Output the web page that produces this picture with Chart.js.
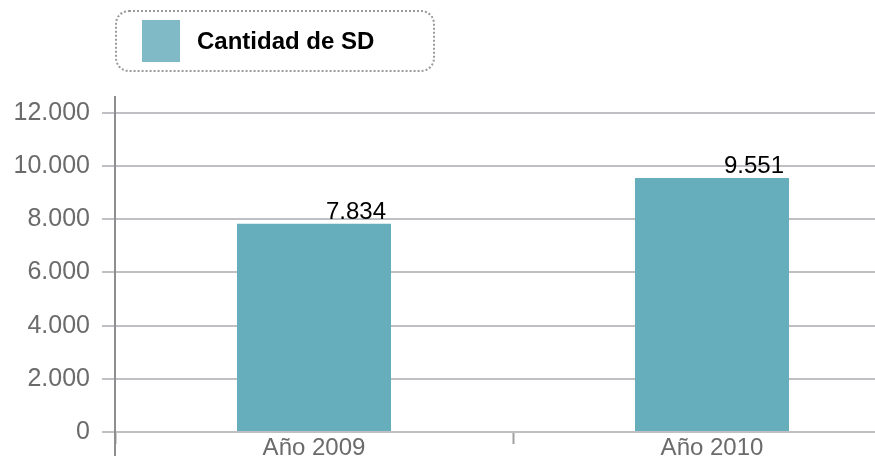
<!DOCTYPE html>
<html lang="es">
<head>
<meta charset="utf-8">
<title>Cantidad de SD</title>
<script src="https://cdn.jsdelivr.net/npm/chart.js@4/dist/chart.umd.min.js"></script>
<style>
  html, body { margin: 0; padding: 0; background: #fff; overflow: hidden; }
  #wrap { position: relative; width: 875px; height: 461px; overflow: hidden; }
  #legend {
    position: absolute; left: 115px; top: 10px; width: 320px; height: 62px;
    box-sizing: border-box; border: 2px dotted #9a9a9a; border-radius: 14px;
    display: flex; align-items: center;
    font: bold 24px "Liberation Sans", Arial, sans-serif; color: #000;
  }
  #legend .swatch { width: 38px; height: 42px; margin-left: 25px; margin-right: 17px; }
</style>
</head>
<body>
<div id="wrap">
  <!-- canvas runs past the right edge so the second bar sits where the original has it -->
  <canvas id="chart" width="911" height="461"></canvas>
  <div id="legend"><span class="swatch"></span><span class="name"></span></div>
</div>
<script>
"use strict";
const categories = ["Año 2009", "Año 2010"];
const seriesName = "Cantidad de SD";
const seriesValues = [7834, 9551];
const yTicks = [0, 2000, 4000, 6000, 8000, 10000, 12000];

const barColor = "#66aebb";
const legendColor = "#80bac6";
const gridColor = "#c0c0c4";
const axisColor = "#8e8e8e";

// 12000 -> "12.000"
const fmt = (v) => String(v).replace(/\B(?=(\d{3})+(?!\d))/g, ".");

document.querySelector("#legend .swatch").style.background = legendColor;
document.querySelector("#legend .name").textContent = seriesName;

Chart.defaults.font.family = '"Liberation Sans", Arial, sans-serif';

// value labels right-aligned just above each bar
const valueLabels = {
  id: "valueLabels",
  afterDatasetsDraw(chart) {
    const ctx = chart.ctx;
    ctx.save();
    ctx.font = '24px "Liberation Sans", Arial, sans-serif';
    ctx.fillStyle = "#000";
    ctx.textAlign = "right";
    ctx.textBaseline = "alphabetic";
    chart.getDatasetMeta(0).data.forEach((bar, i) => {
      ctx.fillText(fmt(chart.data.datasets[0].data[i]), bar.x + bar.width / 2 - 5, bar.y - 5);
    });
    ctx.restore();
  },
};

// the y axis line runs a bit below the zero line
const axisTail = {
  id: "axisTail",
  afterDraw(chart) {
    const { ctx, chartArea } = chart;
    ctx.save();
    ctx.strokeStyle = axisColor;
    ctx.lineWidth = 2;
    ctx.beginPath();
    ctx.moveTo(chartArea.left, chartArea.bottom);
    ctx.lineTo(chartArea.left, chartArea.bottom + 24);
    ctx.stroke();
    ctx.restore();
  },
};

new Chart(document.getElementById("chart"), {
  type: "bar",
  data: {
    labels: categories,
    datasets: [
      {
        label: seriesName,
        data: seriesValues,
        backgroundColor: barColor,
        categoryPercentage: 1,
        barPercentage: 0.387,
      },
    ],
  },
  options: {
    responsive: false,
    animation: false,
    layout: { padding: { top: 97, left: 0, right: 0, bottom: 0 } },
    plugins: {
      legend: { display: false },
      tooltip: { enabled: false },
    },
    scales: {
      x: {
        offset: true,
        afterFit: (s) => { s.height = 29; },
        grid: {
          offset: true,
          drawOnChartArea: false,
          tickLength: 12,
          tickWidth: 2,
          tickColor: "#a0a0a0",
        },
        border: { color: gridColor, width: 2 },
        ticks: { color: "#6b6b6b", font: { size: 24 }, padding: -10 },
      },
      y: {
        min: 0,
        max: 12600,
        afterFit: (s) => { s.width = 115; },
        afterBuildTicks: (s) => { s.ticks = yTicks.map((v) => ({ value: v })); },
        grid: { color: gridColor, lineWidth: 2, tickLength: 13 },
        border: { color: axisColor, width: 2 },
        ticks: {
          color: "#6b6b6b",
          font: { size: 25 },
          padding: 12,
          callback: (v) => fmt(v),
        },
      },
    },
  },
  plugins: [valueLabels, axisTail],
});
</script>
</body>
</html>
